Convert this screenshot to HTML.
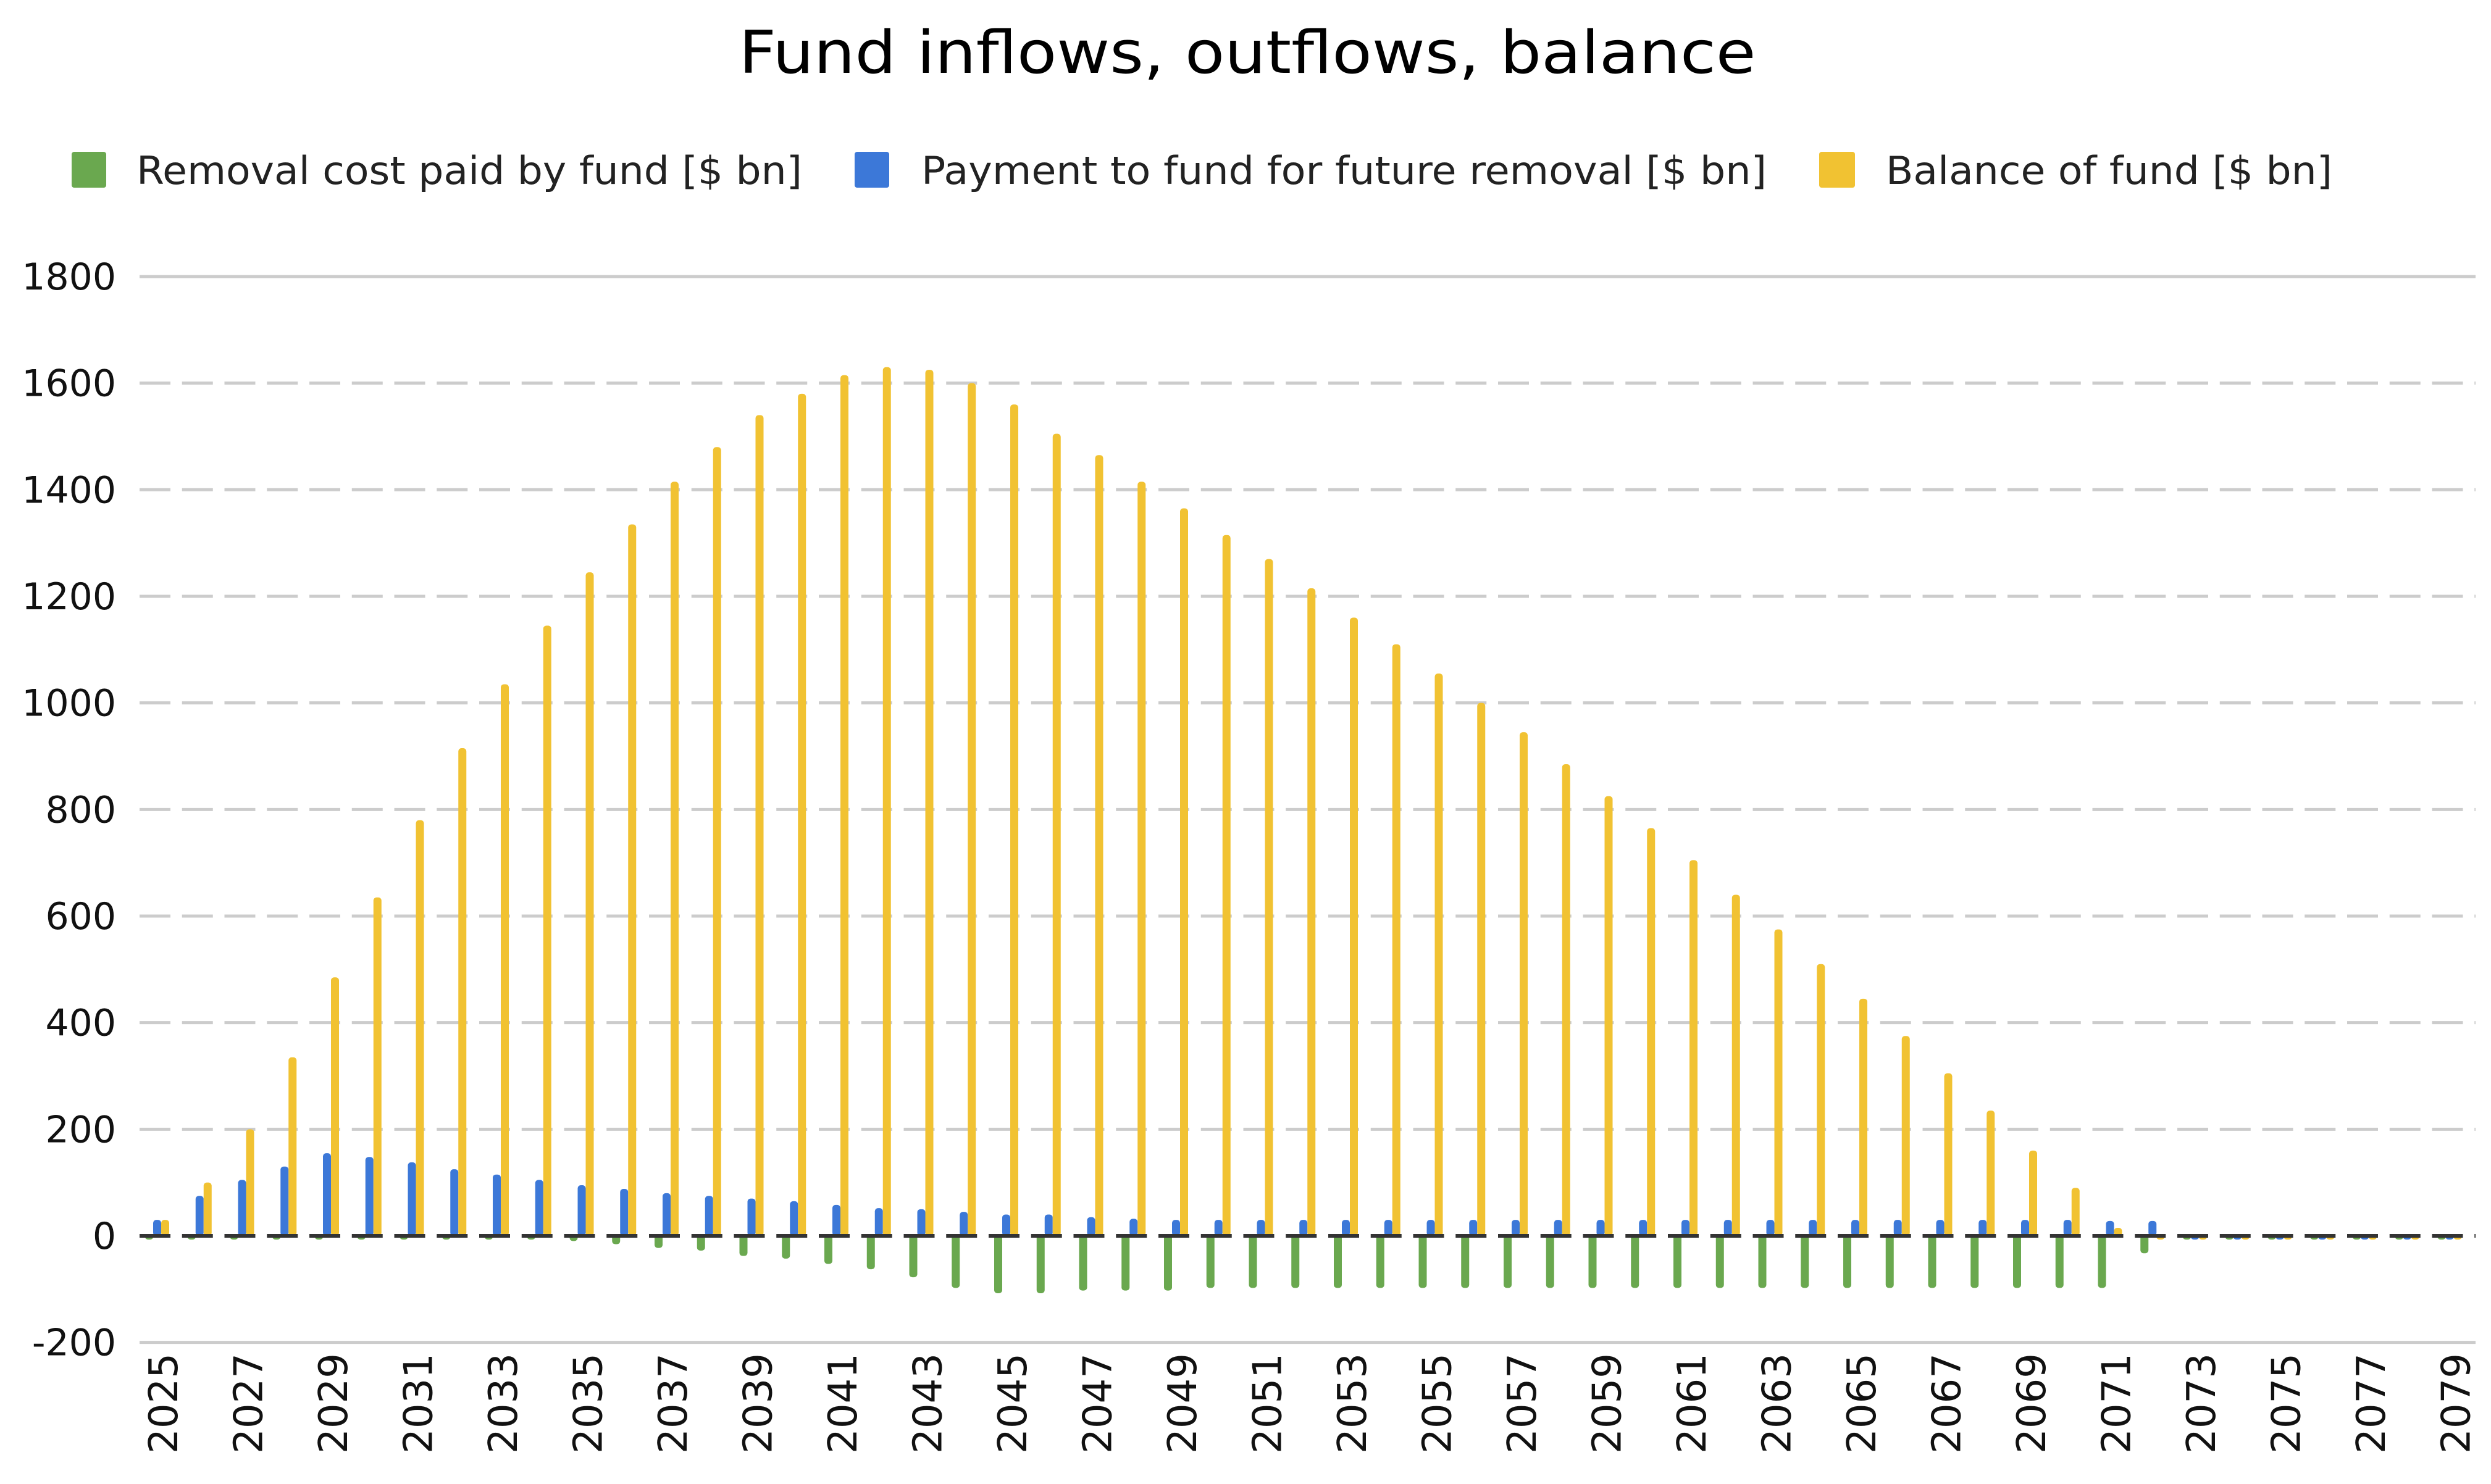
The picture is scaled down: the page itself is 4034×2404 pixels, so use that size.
<!DOCTYPE html>
<html><head><meta charset="utf-8"><style>
html,body{margin:0;padding:0;background:#fff;}
svg{display:block;font-family:"DejaVu Sans","Liberation Sans",sans-serif;}
</style></head><body>
<svg id="chart" width="4034" height="2404" viewBox="0 0 4034 2404" xmlns="http://www.w3.org/2000/svg">
<rect width="4034" height="2404" fill="#fff"/>
<text x="2020" y="118" text-anchor="middle" font-size="95" fill="#000" textLength="1647" lengthAdjust="spacingAndGlyphs">Fund inflows, outflows, balance</text>
<g>
<g>
<rect x="116" y="246" width="56" height="58" rx="4" fill="#6aa84f"/>
<text x="221" y="298" font-size="62" fill="#222" textLength="1078" lengthAdjust="spacingAndGlyphs">Removal cost paid by fund [$ bn]</text></g>
<g>
<rect x="1384" y="246" width="56" height="58" rx="4" fill="#3c78d8"/>
<text x="1492" y="298" font-size="62" fill="#222" textLength="1369" lengthAdjust="spacingAndGlyphs">Payment to fund for future removal [$ bn]</text></g>
<g>
<rect x="2946" y="246" width="58" height="58" rx="4" fill="#f1c232"/>
<text x="3054" y="298" font-size="62" fill="#222" textLength="723" lengthAdjust="spacingAndGlyphs">Balance of fund [$ bn]</text></g>
</g>
<g id="grid"></g><g id="bars"></g><g id="zero"></g><g id="xl"></g>
</svg>
<script>
const years = [];
for (let y = 2025; y <= 2079; y++) years.push(y);
const removalCost = [0,0,0,0,0,0,0,0,-5,-8,-12,-18,-25,-30,-40,-45,-55,-65,-80,-100,-110,-110,-105,-105,-105,-100,-100,-100,-100,-100,-100,-100,-100,-100,-100,-100,-100,-100,-100,-100,-100,-100,-100,-100,-100,-100,-100,-35,0,0,0,0,0,0,0];
const payment = [30,75,105,130,155,148,138,125,115,105,95,88,80,75,70,65,58,52,50,45,40,40,35,32,30,30,30,30,30,30,30,30,30,30,30,30,30,30,30,30,30,30,30,30,30,30,28,28,0,0,0,0,0,0,0];
const balance = [30,100,200,335,485,635,780,915,1035,1145,1245,1335,1415,1480,1540,1580,1615,1630,1625,1600,1560,1505,1465,1415,1365,1315,1270,1215,1160,1110,1055,1000,945,885,825,765,705,640,575,510,445,375,305,235,160,90,15,0,0,0,0,0,0,0,0];
const yTicks = [1800,1600,1400,1200,1000,800,600,400,200,0,-200];

const NS = "http://www.w3.org/2000/svg";
const gridL = 226, gridR = 4009;
const x0 = 265, step = 68.75;
const yZero = 2002, pxPerUnit = (2002 - 448) / 1800;
const yScale = v => yZero - v * pxPerUnit;
const xScale = i => x0 + i * step;
function mk(tag, attrs, parent) {
  const e = document.createElementNS(NS, tag);
  for (const k in attrs) e.setAttribute(k, attrs[k]);
  parent.appendChild(e);
  return e;
}
const grid = document.getElementById('grid');
yTicks.forEach(t => {
  const y = yScale(t);
  if (t !== 0) {
    const solid = (t === 1800 || t === -200);
    const ln = mk('line', {x1: gridL, x2: gridR, y1: y, y2: y, stroke: '#cccccc', 'stroke-width': 5, 'stroke-dasharray': solid ? 'none' : '50 18.75'}, grid);
    
    
  }
  const tx = mk('text', {x: 188, y: y + 21, 'text-anchor': 'end', 'font-size': 60, fill: '#111'}, grid);
  tx.textContent = t;
  
  
});
const bars = document.getElementById('bars');
const bw = 13;
const series = [[removalCost, '#6aa84f', -30, 'removal-bar'], [payment, '#3c78d8', -17, 'payment-bar'], [balance, '#f1c232', -4, 'balance-bar']];
years.forEach((yr, i) => {
  const cx = xScale(i);
  series.forEach(([arr, col, off, nm]) => {
    const v = arr[i];
    const y1 = yScale(Math.max(v, 0)), y2 = yScale(Math.min(v, 0));
    const h = Math.max(y2 - y1, 8);
    const r = mk('rect', {x: cx + off, y: v > 0 ? y2 - h : y1 - 2, width: bw, height: h, rx: 5, fill: col}, bars);
    
    
  });
});
const zl = mk('line', {x1: gridL, x2: gridR, y1: yZero, y2: yZero, stroke: '#333', 'stroke-width': 6, 'stroke-dasharray': '50 18.75'}, document.getElementById('zero'));


const xl = document.getElementById('xl');
years.forEach((yr, i) => {
  if (i % 2 !== 0) return;
  const cx = xScale(i);
  const t = mk('text', {x: 0, y: 0, 'text-anchor': 'end', 'font-size': 64, fill: '#111', transform: 'translate(' + (cx + 22) + ',2192) rotate(-90)'}, xl);
  t.textContent = yr;
  
  
});
</script>
</body></html>
